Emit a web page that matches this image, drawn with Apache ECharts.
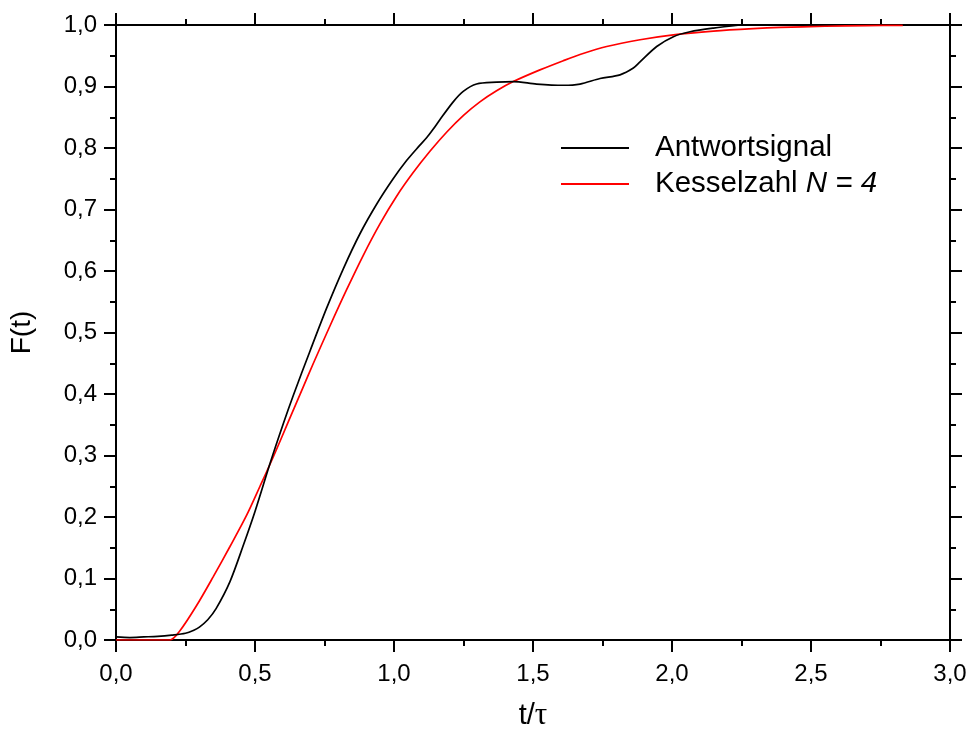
<!DOCTYPE html>
<html>
<head>
<meta charset="utf-8">
<script src="https://cdn.jsdelivr.net/npm/echarts@6/dist/echarts.min.js"></script>
<style>
  html, body { margin: 0; padding: 0; background: #fff; }
  #chart { width: 971px; height: 736px; }
</style>
</head>
<body>
<div id="chart"></div>
<script>
// Measured response signal (black) and tanks-in-series model (red), F(t) vs t/tau
const signalT = [0.00, 0.05, 0.10, 0.15, 0.20, 0.25, 0.28, 0.30, 0.33, 0.36, 0.41, 0.458, 0.50, 0.554, 0.602, 0.638, 0.698, 0.758, 0.818, 0.878, 0.938, 0.997, 1.046, 1.09, 1.118, 1.14, 1.165, 1.213, 1.249, 1.297, 1.369, 1.429, 1.513, 1.609, 1.669, 1.741, 1.813, 1.861, 1.885, 1.945, 2.005, 2.065, 2.149, 2.245];
const signalF = [0.005, 0.004, 0.005, 0.006, 0.008, 0.011, 0.016, 0.021, 0.033, 0.051, 0.095, 0.154, 0.209, 0.287, 0.352, 0.398, 0.470, 0.540, 0.604, 0.661, 0.709, 0.750, 0.780, 0.803, 0.817, 0.830, 0.846, 0.875, 0.892, 0.904, 0.907, 0.908, 0.904, 0.902, 0.904, 0.913, 0.919, 0.930, 0.940, 0.965, 0.981, 0.989, 0.995, 1.000];

const modelT = [0.00, 0.10, 0.194, 0.23, 0.29, 0.35, 0.41, 0.47, 0.518, 0.566, 0.62, 0.674, 0.71, 0.77, 0.83, 0.89, 0.95, 1.01, 1.069, 1.13, 1.19, 1.25, 1.309, 1.369, 1.429, 1.525, 1.609, 1.669, 1.765, 1.885, 2.005, 2.149, 2.292, 2.39, 2.55, 2.70, 2.83];
const modelF = [0.000, 0.000, 0.000, 0.015, 0.056, 0.103, 0.152, 0.203, 0.250, 0.298, 0.355, 0.412, 0.450, 0.511, 0.570, 0.626, 0.677, 0.722, 0.760, 0.795, 0.826, 0.853, 0.875, 0.893, 0.908, 0.927, 0.942, 0.952, 0.965, 0.976, 0.984, 0.990, 0.994, 0.996, 0.998, 0.999, 0.9995];

const xTickLabels = ['0,0', '0,5', '1,0', '1,5', '2,0', '2,5', '3,0'];
const yTickLabels = ['0,0', '0,1', '0,2', '0,3', '0,4', '0,5', '0,6', '0,7', '0,8', '0,9', '1,0'];

const signalName = 'Antwortsignal';
const modelName = 'Kesselzahl N = 4';

const FONT = '"Liberation Sans", Arial, Helvetica, sans-serif';
const SERIF = '"Liberation Serif", "Times New Roman", serif';
const BLACK = '#000000';

function zip(a, b) { return a.map((v, i) => [v, b[i]]); }

const lineAxis = { show: true, onZero: false, lineStyle: { color: BLACK, width: 2 } };
const majorTick = { show: true, inside: false, length: 12, lineStyle: { color: BLACK, width: 2 } };
const minorTick = { show: true, splitNumber: 2, length: 6, lineStyle: { color: BLACK, width: 2 } };

function xAxisDef(position, labels) {
  return {
    type: 'value', position, min: 0, max: 3, interval: 0.5,
    axisLine: lineAxis, axisTick: majorTick, minorTick,
    splitLine: { show: false }, minorSplitLine: { show: false },
    axisLabel: labels ? {
      show: true, color: BLACK, fontFamily: FONT, fontSize: 24, margin: 22,
      formatter: v => xTickLabels[Math.round(v / 0.5)]
    } : { show: false },
    name: labels ? '{s|t/}{g|\u03c4}' : '', nameLocation: 'middle', nameGap: 60,
    nameTextStyle: {
      color: BLACK, fontFamily: FONT, fontSize: 29,
      rich: {
        s: { color: BLACK, fontFamily: FONT, fontSize: 29 },
        g: { color: BLACK, fontFamily: SERIF, fontSize: 31 }
      }
    }
  };
}

function yAxisDef(position, labels) {
  return {
    type: 'value', position, min: 0, max: 1, interval: 0.1,
    axisLine: lineAxis, axisTick: majorTick, minorTick,
    splitLine: { show: false }, minorSplitLine: { show: false },
    axisLabel: labels ? {
      show: true, color: BLACK, fontFamily: FONT, fontSize: 24, margin: 19,
      formatter: v => yTickLabels[Math.round(v * 10)]
    } : { show: false },
    name: labels ? 'F(t)' : '', nameLocation: 'middle', nameGap: 80,
    nameTextStyle: { color: BLACK, fontFamily: FONT, fontSize: 28 }
  };
}

const chart = echarts.init(document.getElementById('chart'), null, { renderer: 'canvas' });
chart.setOption({
  backgroundColor: '#ffffff',
  animation: false,
  grid: { left: 116, right: 21, top: 25, bottom: 94, containLabel: false },
  xAxis: [xAxisDef('bottom', true), xAxisDef('top', false)],
  yAxis: [yAxisDef('left', true), yAxisDef('right', false)],
  legend: {
    orient: 'vertical', left: 556, top: 128, itemGap: 6,
    icon: 'rect', itemWidth: 68, itemHeight: 2,
    data: [signalName, modelName],
    textStyle: {
      color: BLACK, fontFamily: FONT, fontSize: 29.5,
      rich: {
        n: { fontFamily: FONT, fontSize: 29.5, color: BLACK, padding: [0, 0, 0, 21] },
        i: { fontFamily: FONT, fontSize: 29.5, color: BLACK, fontStyle: 'italic' }
      }
    },
    formatter: name => name === modelName
      ? '{n|Kesselzahl }{i|N = 4}'
      : '{n|' + name + '}'
  },
  series: [
    {
      name: signalName, type: 'line', xAxisIndex: 0, yAxisIndex: 0,
      data: zip(signalT, signalF), showSymbol: false, smooth: 0.3,
      color: BLACK, lineStyle: { color: BLACK, width: 1.7 }, z: 3
    },
    {
      name: modelName, type: 'line', xAxisIndex: 0, yAxisIndex: 0,
      data: zip(modelT, modelF), showSymbol: false, smooth: 0.3,
      color: '#ff0000', lineStyle: { color: '#ff0000', width: 1.7 }, z: 2
    }
  ]
});
</script>
</body>
</html>
